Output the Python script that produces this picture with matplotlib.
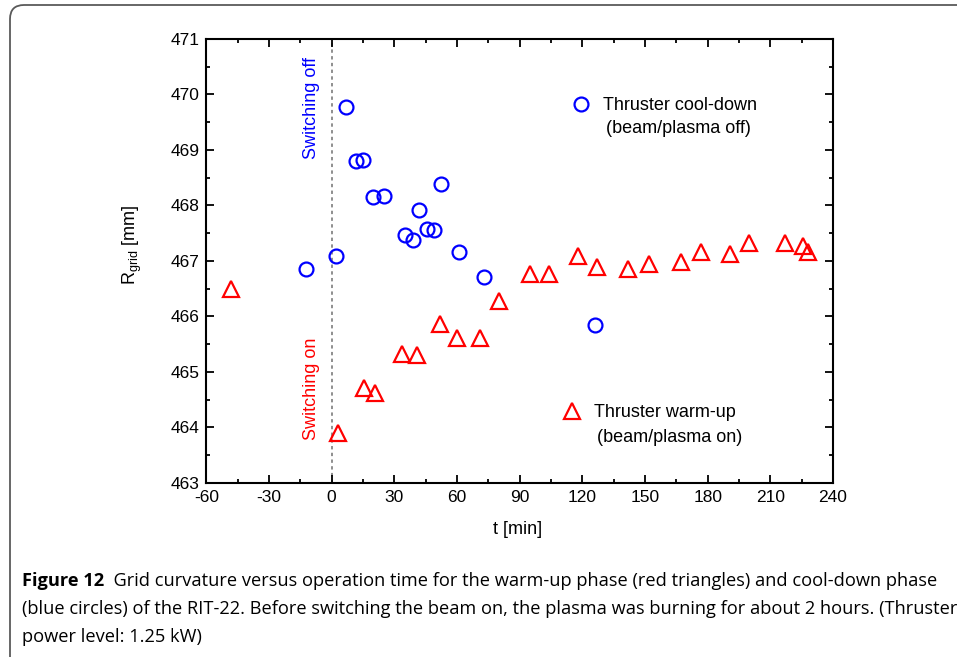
# Grid curvature vs. operation time (RIT-22), warm-up / cool-down

import matplotlib
matplotlib.use("Agg")
import matplotlib.pyplot as plt
from matplotlib.lines import Line2D
from matplotlib.patches import FancyBboxPatch
from matplotlib.transforms import IdentityTransform
from matplotlib.ticker import MultipleLocator

# ------------------------------------------
# data
# ------------------------------------------

# cool-down phase (blue circles)
t_cool = [-12.2, 1.9, 6.7, 11.8, 14.8, 19.9, 24.9, 34.9, 39.0, 41.8,
          45.7, 49.1, 52.2, 61.1, 73.0, 126.0]
r_cool = [466.85, 467.09, 469.77, 468.80, 468.82, 468.15, 468.16, 467.46,
          467.38, 467.92, 467.57, 467.55, 468.39, 467.16, 466.71, 465.84]

# warm-up phase (red triangles)
t_warm = [-48.2, 3.2, 15.3, 20.9, 33.8, 41.0, 51.8, 60.0, 71.0, 80.0,
          94.9, 104.0, 118.0, 126.8, 142.1, 152.0, 167.0, 177.0, 190.9,
          199.8, 216.9, 225.6, 228.0]
r_warm = [466.50, 463.90, 464.70, 464.62, 465.32, 465.31, 465.86, 465.60,
          465.60, 466.28, 466.76, 466.77, 467.09, 466.88, 466.86, 466.94,
          466.98, 467.16, 467.13, 467.32, 467.32, 467.27, 467.15]

x_ticks = [-60, -30, 0, 30, 60, 90, 120, 150, 180, 210, 240]
y_ticks = [463, 464, 465, 466, 467, 468, 469, 470, 471]

caption_bold = "Figure 12"
caption_lines = [
    "Grid curvature versus operation time for the warm-up phase (red triangles) and cool-down phase",
    "(blue circles) of the RIT-22. Before switching the beam on, the plasma was burning for about 2 hours. (Thruster",
    "power level: 1.25 kW)",
]

# ------------------------------------------
# figure
# ------------------------------------------

W, H = 957, 657
plt.rcParams['font.family'] = ['Liberation Sans', 'DejaVu Sans']
plt.rcParams['axes.unicode_minus'] = False
fig = plt.figure(figsize=(W / 100, H / 100), dpi=100)

# rounded frame around the figure (pixel coords)
frame = FancyBboxPatch((10, -60), 1000, H - 5 + 60,
                       boxstyle="round,pad=0,rounding_size=14",
                       transform=IdentityTransform(),
                       facecolor='none', edgecolor='#5a5a5a', linewidth=1.3)
fig.add_artist(frame)

ax_l, ax_r, ax_t, ax_b = 206.3, 833.0, 38.8, 482.8
ax = fig.add_axes([ax_l / W, 1 - ax_b / H, (ax_r - ax_l) / W, (ax_b - ax_t) / H])

def ax_x(px):
    return (px - ax_l) / (ax_r - ax_l)

def ax_y(py):
    return (ax_b - py) / (ax_b - ax_t)

ax.plot(t_cool, r_cool, linestyle='none', marker='o', markersize=10,
        markerfacecolor='none', markeredgecolor='#0000ff', markeredgewidth=1.6)
ax.plot(t_warm, r_warm, linestyle='none', marker='^', markersize=11.5,
        markerfacecolor='none', markeredgecolor='#ff0000', markeredgewidth=1.6)

ax.axvline(0, color='#707070', linestyle=(0, (2.2, 2.2)), linewidth=1.1, zorder=0)

ax.set_xlim(-60, 240)
ax.set_ylim(463, 471)
ax.set_xticks(x_ticks)
ax.set_yticks(y_ticks)
ax.xaxis.set_minor_locator(MultipleLocator(15))
ax.yaxis.set_minor_locator(MultipleLocator(0.5))
ax.tick_params(which='both', direction='in', top=True, right=True,
               width=1.3, labelsize=12.5, pad=5)
ax.tick_params(which='major', length=6)
ax.tick_params(which='minor', length=3)
for s in ax.spines.values():
    s.set_linewidth(1.5)

ax.set_xlabel("t [min]", fontsize=13)
ax.set_ylabel(r"R$_{\mathregular{grid}}$ [mm]", fontsize=13)
ax.xaxis.set_label_coords(0.497, -0.086)
ax.yaxis.set_label_coords(-0.100, 0.536)

ax.text(-9.7, 469.76, "Switching off", rotation=90, color='#0000ff',
        fontsize=13, ha='center', va='center')
ax.text(-9.6, 464.69, "Switching on", rotation=90, color='#ff0000',
        fontsize=13, ha='center', va='center')

# legends, second line of each label centred below it
h_cool = Line2D([], [], linestyle='none', marker='o', markersize=10,
                markerfacecolor='none', markeredgecolor='#0000ff', markeredgewidth=1.6)
h_warm = Line2D([], [], linestyle='none', marker='^', markersize=11.5,
                markerfacecolor='none', markeredgecolor='#ff0000', markeredgewidth=1.6)

leg1 = ax.legend([h_cool], ["Thruster cool-down"], loc='center left',
                 bbox_to_anchor=(ax_x(572), ax_y(105.7)),
                 frameon=False, fontsize=13, handlelength=1.0, handletextpad=0.7,
                 borderpad=0, borderaxespad=0)
ax.add_artist(leg1)
leg2 = ax.legend([h_warm], ["Thruster warm-up"], loc='center left',
                 bbox_to_anchor=(ax_x(563), ax_y(412.7)),
                 frameon=False, fontsize=13, handlelength=1.0, handletextpad=0.7,
                 borderpad=0, borderaxespad=0)

ax.text(ax_x(678.3), ax_y(128.5), "(beam/plasma off)", transform=ax.transAxes,
        ha='center', va='center', fontsize=13)
ax.text(ax_x(669.7), ax_y(437.7), "(beam/plasma on)", transform=ax.transAxes,
        ha='center', va='center', fontsize=13)

# ------------------------------------------
# caption
# ------------------------------------------

cap_font = ['Open Sans', 'DejaVu Sans']
cap_x = 22 / W
cap_base = [586.5, 614.5, 641.5]

# pick the font size so that the longest line fits the box width
renderer = fig.canvas.get_renderer()
probe = fig.text(0, 0, caption_lines[1], family=cap_font, fontsize=12)
w = probe.get_window_extent(renderer).width
probe.remove()
cap_size = 12 * (955 - 22) / w

fb = fig.text(cap_x, 1 - cap_base[0] / H, caption_bold, family=cap_font,
              fontsize=cap_size, fontweight='bold', va='baseline', ha='left')
wb = fb.get_window_extent(renderer).width
fig.text(cap_x + wb / W, 1 - cap_base[0] / H, "  " + caption_lines[0],
         family=cap_font, fontsize=cap_size, va='baseline', ha='left')
for line, yb in zip(caption_lines[1:], cap_base[1:]):
    fig.text(cap_x, 1 - yb / H, line, family=cap_font, fontsize=cap_size,
             va='baseline', ha='left')

fig.savefig("out.png", dpi=100)
